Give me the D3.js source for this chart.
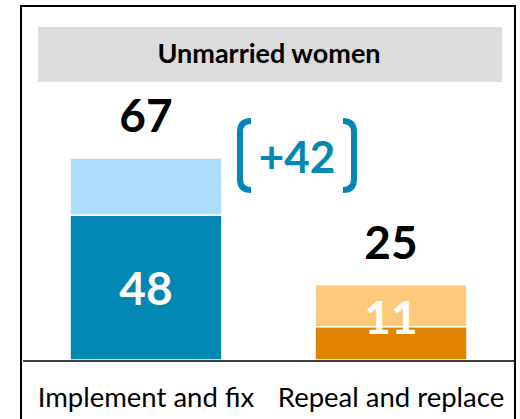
<!DOCTYPE html>
<html><head><meta charset="utf-8">
<script src="https://cdn.jsdelivr.net/npm/d3@7"></script>
<style>
html,body{margin:0;padding:0;background:#fff;}
svg{display:block;}
text{font-family:Lato,"Open Sans",sans-serif;}
</style></head>
<body>
<script>
// Data
const title = "Unmarried women";
const categories = ["Implement and fix", "Repeal and replace"];
const strongValues = [48, 11];   // darker segment
const totalValues = [67, 25];    // total (top of lighter segment)
const darkColors = ["#0286b4", "#de8400"];
const lightColors = ["#aedefd", "#ffc97b"];
const gapLabel = "+42";

const W = 520, H = 419;
const svg = d3.select("body").append("svg").attr("width", W).attr("height", H);

// frame
svg.append("rect").attr("x", 21).attr("y", 6).attr("width", 494).attr("height", 440)
  .attr("fill", "none").attr("stroke", "#000").attr("stroke-width", 2);

// title band
svg.append("rect").attr("x", 38).attr("y", 27).attr("width", 464).attr("height", 55).attr("fill", "#dcdcdc");
svg.append("text").attr("x", 269).attr("y", 63).attr("text-anchor", "middle")
  .attr("font-weight", "bold").attr("font-size", 27).attr("fill", "#000").text(title);

const baseY = 360;
const x = d3.scaleBand().domain(categories).range([23.5, 513.5]).paddingInner(0.38).paddingOuter(0.19);
const y = d3.scaleLinear().domain([0, 67]).range([baseY, baseY - 202]);

const data = categories.map((c, i) => ({c, strong: strongValues[i], total: totalValues[i], dark: darkColors[i], light: lightColors[i]}));

const g = svg.append("g");
// light segments
g.selectAll("rect.light").data(data).join("rect").attr("class", "light")
  .attr("x", d => x(d.c)).attr("width", x.bandwidth())
  .attr("y", d => y(d.total)).attr("height", d => y(d.strong) - y(d.total))
  .attr("fill", d => d.light).attr("stroke", "#fff").attr("stroke-width", 1.5);
// dark segments
g.selectAll("rect.dark").data(data).join("rect").attr("class", "dark")
  .attr("x", d => x(d.c)).attr("width", x.bandwidth())
  .attr("y", d => y(d.strong)).attr("height", d => y(0) - y(d.strong))
  .attr("fill", d => d.dark).attr("stroke", "#fff").attr("stroke-width", 1.5);

// inner labels
g.selectAll("text.inner").data(data).join("text").attr("class", "inner")
  .attr("x", d => x(d.c) + x.bandwidth() / 2)
  .attr("y", d => {
    const segH = y(0) - y(d.strong);
    const cy = segH > 60 ? y(d.strong / 2) : y(d.strong) - 10;
    return cy + 17;
  })
  .attr("text-anchor", "middle").attr("font-weight", "bold").attr("font-size", 46)
  .attr("fill", "#fff").text(d => d.strong);

// total labels
g.selectAll("text.total").data(data).join("text").attr("class", "total")
  .attr("x", d => x(d.c) + x.bandwidth() / 2)
  .attr("y", d => y(d.total) - 26)
  .attr("text-anchor", "middle").attr("font-weight", "bold").attr("font-size", 46)
  .attr("fill", "#000").text(d => d.total);

// baseline
svg.append("line").attr("x1", 23).attr("x2", 514).attr("y1", baseY + 1).attr("y2", baseY + 1)
  .attr("stroke", "#000").attr("stroke-width", 1.5);

// category labels
svg.selectAll("text.cat").data(categories).join("text").attr("class", "cat")
  .attr("x", d => x(d) + x.bandwidth() / 2).attr("y", 407)
  .attr("text-anchor", "middle").attr("font-size", 27.5).attr("fill", "#000").text(d => d);

// gap annotation with brackets
const bx0 = 240, bx1 = 354, by0 = 121, by1 = 190, r = 11, hook = 11;
const blue = darkColors[0];
svg.append("path")
  .attr("d", `M${bx0 + hook},${by0} Q${bx0},${by0} ${bx0},${by0 + r} L${bx0},${by1 - r} Q${bx0},${by1} ${bx0 + hook},${by1}`)
  .attr("fill", "none").attr("stroke", blue).attr("stroke-width", 6);
svg.append("path")
  .attr("d", `M${bx1 - hook},${by0} Q${bx1},${by0} ${bx1},${by0 + r} L${bx1},${by1 - r} Q${bx1},${by1} ${bx1 - hook},${by1}`)
  .attr("fill", "none").attr("stroke", blue).attr("stroke-width", 6);
svg.append("text").attr("x", (bx0 + bx1) / 2).attr("y", 173).attr("text-anchor", "middle")
  .attr("font-weight", "bold").attr("font-size", 44).attr("fill", blue).text(gapLabel);
</script>
</body></html>
